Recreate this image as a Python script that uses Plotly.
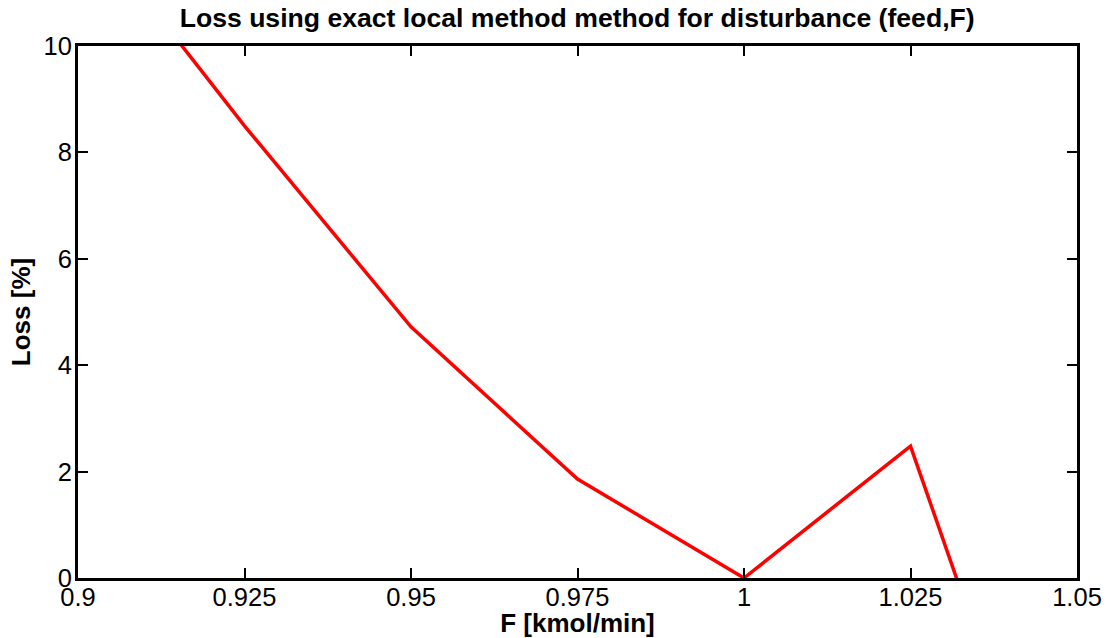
import plotly.graph_objects as go

feed_F = [0.9, 0.925, 0.95, 0.975, 1.0, 1.025, 1.05]
loss_pct = [12.5, 8.5, 4.72, 1.86, 0.0, 2.48, -6.5]

x_tick_vals = [0.9, 0.925, 0.95, 0.975, 1.0, 1.025, 1.05]
x_tick_text = ["0.9", "0.925", "0.95", "0.975", "1", "1.025", "1.05"]
y_tick_vals = [0, 2, 4, 6, 8, 10]
y_tick_text = ["0", "2", "4", "6", "8", "10"]

FONT = "Liberation Sans, Arial, Helvetica, sans-serif"

fig = go.Figure()
fig.add_trace(go.Scatter(
    x=feed_F, y=loss_pct, mode="lines",
    line=dict(color="#ff0000", width=3.5),
    showlegend=False, hoverinfo="x+y",
))

axis_common = dict(
    showline=True, linecolor="black", linewidth=3, mirror="ticks",
    ticks="inside", ticklen=10, tickwidth=2, tickcolor="black",
    showgrid=False, zeroline=False, automargin=False,
    tickfont=dict(family=FONT, size=25.5, color="black"),
)

fig.update_layout(
    width=1111, height=638,
    margin=dict(l=78, r=34, t=46, b=60),
    paper_bgcolor="white", plot_bgcolor="white",
    title=dict(
        text="<b>Loss using exact local method method for disturbance (feed,F)</b>",
        font=dict(family=FONT, size=26.6, color="black"),
        x=0.5195, xanchor="center", xref="container",
        y=1 - 17.5 / 638, yanchor="middle", yref="container",
    ),
    xaxis=dict(
        range=[0.9, 1.05], tickmode="array", tickvals=x_tick_vals, ticktext=x_tick_text,
        ticklabelstandoff=-6,
        title=dict(text="<b>F [kmol/min]</b>", font=dict(family=FONT, size=26, color="black"), standoff=0),
        **axis_common,
    ),
    yaxis=dict(
        range=[0, 10], tickmode="array", tickvals=y_tick_vals, ticktext=y_tick_text,
        ticklabelstandoff=-2,
        title=dict(text="<b>Loss [%]</b>", font=dict(family=FONT, size=26, color="black"), standoff=6),
        **axis_common,
    ),
)

fig.write_html("out.html")
